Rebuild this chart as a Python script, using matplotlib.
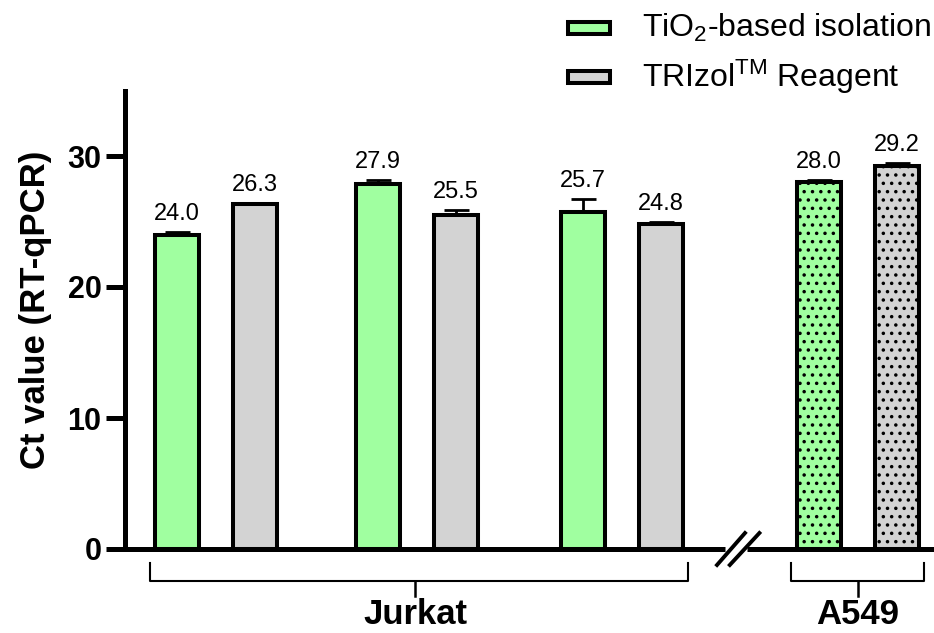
import numpy as np
import matplotlib
matplotlib.use('Agg')
import matplotlib.pyplot as plt
from matplotlib.patches import Rectangle

plt.rcParams['font.family'] = ['Liberation Sans', 'DejaVu Sans']
plt.rcParams['mathtext.default'] = 'regular'
plt.rcParams['hatch.linewidth'] = 1.3

# data
groups = ['Jurkat', 'Jurkat', 'Jurkat', 'A549']
tio2_vals = [24.0, 27.9, 25.7, 28.0]
tio2_err = [0.2, 0.3, 1.05, 0.2]
trizol_vals = [26.3, 25.5, 24.8, 29.2]
trizol_err = [0.15, 0.4, 0.15, 0.25]
series_names = ['TiO$_2$-based isolation', 'TRIzol$^{TM}$ Reagent']
green = '#A0FFA0'
grey = '#D3D3D3'

# layout (x unit ~ 80 px)
centers = np.array([1.135, 3.65, 6.21, 9.16])
off = 0.49
width = 0.55
lw = 2.9

fig = plt.figure(figsize=(9.34, 6.33), dpi=100)
ax = fig.add_axes([125 / 934, 84 / 633, 809 / 934, 458.5 / 633])
ax.set_xlim(0, 809 / 80)
ax.set_ylim(0, 35)

hatches = ['', '', '', '..']
for i in range(4):
    ax.bar(centers[i] - off, tio2_vals[i], width, color=green, edgecolor='black',
           linewidth=lw, hatch=hatches[i], zorder=3)
    ax.bar(centers[i] + off, trizol_vals[i], width, color=grey, edgecolor='black',
           linewidth=lw, hatch=hatches[i], zorder=3)

xs = np.concatenate([centers - off, centers + off])
vals = np.array(tio2_vals + trizol_vals)
errs = np.array(tio2_err + trizol_err)
ax.errorbar(xs, vals, yerr=[np.zeros_like(errs), errs], fmt='none', ecolor='black',
            elinewidth=2, capsize=9, capthick=2, zorder=2)
for x, v, e in zip(xs, vals, errs):
    ax.annotate(f'{v:.1f}', (x, v + e), xytext=(0, 8.5), textcoords='offset points',
                ha='center', va='baseline', fontsize=17)

# axes styling
for s in ['top', 'right', 'bottom']:
    ax.spines[s].set_visible(False)
ax.spines['left'].set_linewidth(3.6)
ax.set_xticks([])
ax.set_yticks([0, 10, 20, 30])
ax.tick_params(axis='y', length=14, width=3.6, labelsize=22, pad=3)
for t in ax.get_yticklabels():
    t.set_fontweight('bold')
ax.set_ylabel('Ct value (RT-qPCR)', fontsize=25, fontweight='bold')
ax.yaxis.set_label_coords(-0.09, 0.521)

# broken x axis
ax.plot([0, 7.5], [0, 0], color='black', lw=3.6, clip_on=False, solid_capstyle='butt')
ax.plot([7.78, 809 / 80], [0, 0], color='black', lw=3.6, clip_on=False, solid_capstyle='butt')
ax.plot([7.4, 7.75], [-1.22, 1.22], color='black', lw=2.8, clip_on=False)
ax.plot([7.56, 7.93], [-1.22, 1.22], color='black', lw=2.8, clip_on=False)

# group brackets
for x0, x1, xc, name in [(0.31, 7.04, 3.63, 'Jurkat'), (8.33, 9.99, 9.16, 'A549')]:
    ax.plot([x0, x0, x1, x1], [-1.07, -2.44, -2.44, -1.07], color='black', lw=1.5,
            clip_on=False)
    ax.plot([xc, xc], [-2.44, -3.55], color='black', lw=1.8, clip_on=False)
    ax.text(xc, -5.75, name, ha='center', va='baseline', fontsize=25, fontweight='bold')

# legend
for j, (name, col) in enumerate(zip(series_names, [green, grey])):
    yc = 633 - (28 + 49 * j)
    fig.patches.append(Rectangle((568 / 934, (yc - 6) / 633), 42 / 934, 12 / 633,
                                 facecolor=col, edgecolor='black', linewidth=lw,
                                 transform=fig.transFigure))
    fig.text(642 / 934, yc / 633, name, ha='left', va='center', fontsize=23)

fig.savefig('out.png', dpi=100)
